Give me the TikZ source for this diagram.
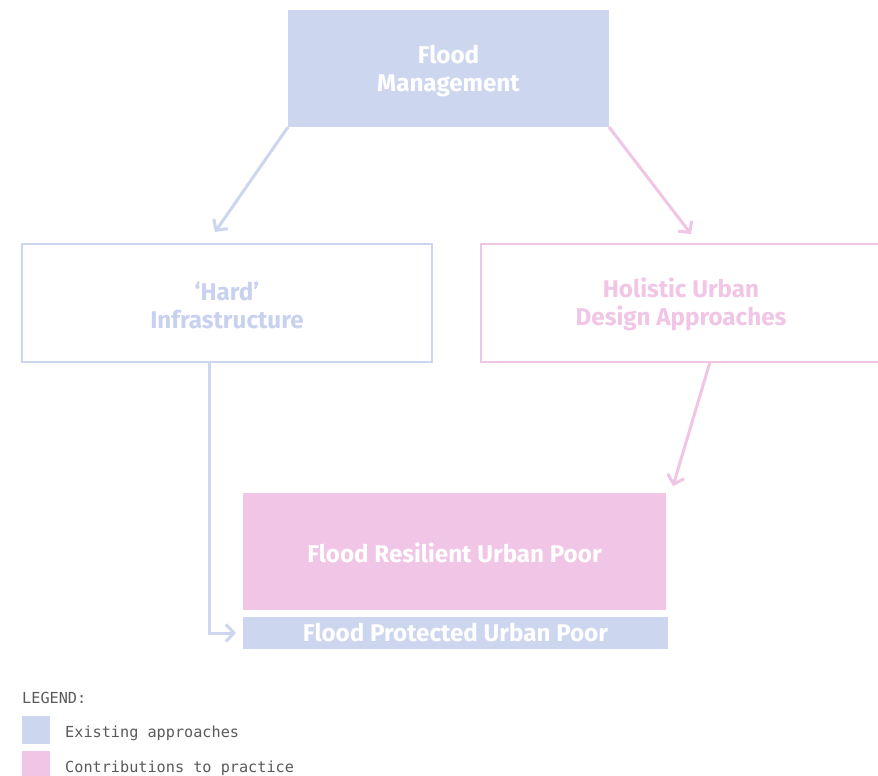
\documentclass[tikz,border=0pt]{standalone}
\usepackage{fontspec}
\setmainfont{Fira Sans}
\newfontfamily\legendfont{DejaVu Sans Mono}
\usetikzlibrary{arrows.meta}
\definecolor{fmblue}{HTML}{CDD6EF}
\definecolor{fmpink}{HTML}{F1C5E5}
\definecolor{hardtext}{HTML}{C8D1EE}
\definecolor{legendgray}{HTML}{5A5A5A}
\newcommand\tdown{\rule{0pt}{23pt}}
\tikzset{
  boxtext/.style={font=\fontsize{24.2}{28}\selectfont\bfseries, align=center, inner sep=0pt, outer sep=0pt, anchor=north west},
  bluefill/.style={boxtext, fill=fmblue, text=white},
  pinkfill/.style={boxtext, fill=fmpink, text=white},
  blueline/.style={boxtext, draw=fmblue, line width=2.5pt, text=hardtext},
  pinkline/.style={boxtext, draw=fmpink, line width=2.5pt, text=fmpink},
  arrowtip/.style={-{Straight Barb[length=8pt,width=17pt,line width=3pt]}, line width=3pt},
  bluearrow/.style={arrowtip, draw=fmblue},
  pinkarrow/.style={arrowtip, draw=fmpink},
  legendtext/.style={font=\legendfont\fontsize{15.2}{18}\selectfont, text=legendgray, anchor=base west, inner sep=0pt},
  legendbox/.style={inner sep=0pt, outer sep=0pt, minimum width=28pt, minimum height=28pt, anchor=north west}
}
\begin{document}
\begin{tikzpicture}[x=1pt,y=-1pt]
\clip (0,0) rectangle (878,776);
\fill[white] (0,0) rectangle (878,776);

\node[bluefill, minimum width=321pt, minimum height=117pt] (fm) at (288,10) {\tdown Flood\\Management};
\node[blueline, minimum width=410pt, minimum height=118pt] (hard) at (22,244) {\tdown`Hard'\\Infrastructure};
\node[pinkline, minimum width=400pt, minimum height=118pt] (hol) at (481,244) {\tdown Holistic Urban\\Design Approaches};
\node[pinkfill, minimum width=423pt, minimum height=117pt] (fr) at (243,493) {\tdown Flood Resilient Urban Poor};
\node[bluefill, minimum width=425pt, minimum height=32pt] (fp) at (243,617) {Flood Protected Urban Poor};

\draw[bluearrow] (fm.south west) -- ([xshift=193pt,yshift=12pt]hard.north west);
\draw[pinkarrow] (fm.south east) -- ([xshift=210pt,yshift=10pt]hol.north west);
\draw[pinkarrow] ([xshift=229pt]hol.south west) -- ([xshift=7pt,yshift=7pt]fr.north east);
\draw[bluearrow] ([xshift=187pt]hard.south west) |- ([xshift=-7pt]fp.west);

\node[legendtext] (lg) at (22,703) {LEGEND:};
\node[legendbox, fill=fmblue] (lb1) at (22,716) {};
\node[legendbox, fill=fmpink] (lb2) at (22,751) {};
\node[legendtext] (lt1) at (65,737) {Existing approaches};
\node[legendtext] (lt2) at (65,772) {Contributions to practice};
\end{tikzpicture}
\end{document}
